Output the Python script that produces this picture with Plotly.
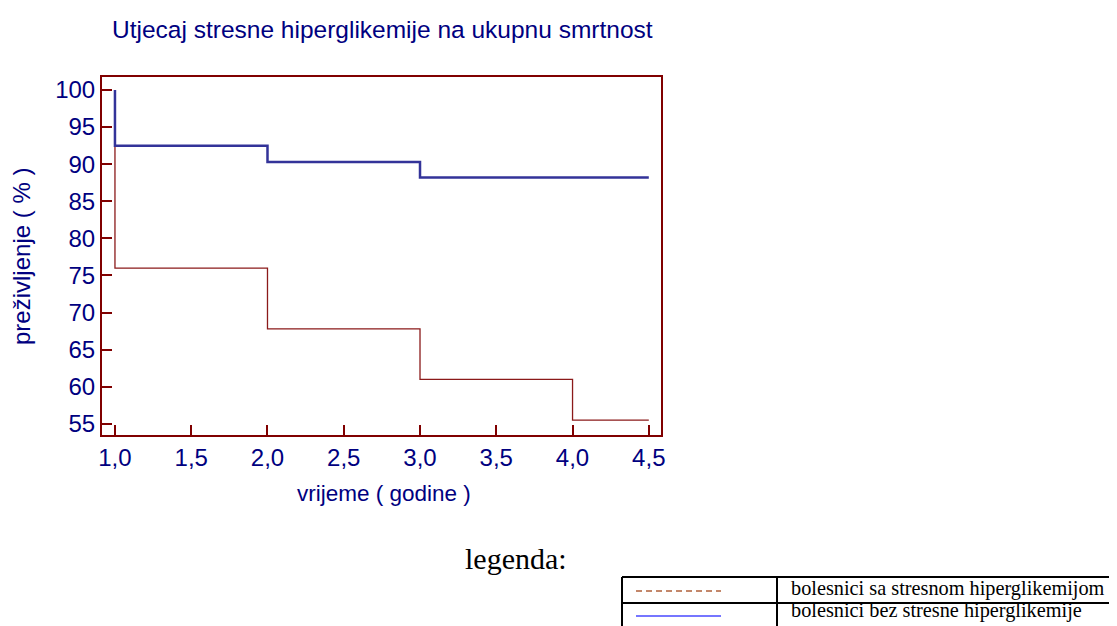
import plotly.graph_objects as go

# ---- data ----
time_red = [1.0, 1.0, 2.0, 3.0, 4.0, 4.5]
surv_red = [100, 76.0, 67.8, 61.0, 55.5, 55.5]
time_blue = [1.0, 1.0, 2.0, 3.0, 4.5]
surv_blue = [100, 92.5, 90.3, 88.2, 88.2]
x_ticks = [1.0, 1.5, 2.0, 2.5, 3.0, 3.5, 4.0, 4.5]
y_ticks = [55, 60, 65, 70, 75, 80, 85, 90, 95, 100]
title_text = "Utjecaj stresne hiperglikemije na ukupnu smrtnost"
x_title = "vrijeme ( godine )"
y_title = "preživljenje ( % )"
legend_title = "legenda:"
legend_labels = ["bolesnici sa stresnom hiperglikemijom", "bolesnici bez stresne hiperglikemije"]

OFF = 8  # page body margin
W, H = 1117 - OFF, 626 - OFF
L, R, T, B = 102 - OFF, 661 - OFF, 77 - OFF, 435 - OFF
NAVY = "#000080"
MAROON = "#800000"


def px(xp):  # screen px -> paper x
    return (xp - OFF - L) / (R - L)


def py(yp):  # screen px -> paper y
    return (B - (yp - OFF)) / (B - T)


fig = go.Figure()
fig.add_trace(go.Scatter(x=time_red, y=surv_red, mode="lines", line_shape="hv",
                         line=dict(color="#8b1a1a", width=1.3), showlegend=False))
fig.add_trace(go.Scatter(x=time_blue, y=surv_blue, mode="lines", line_shape="hv",
                         line=dict(color="#333399", width=2.5), showlegend=False))

axis_font = dict(family="Liberation Sans, Arial", size=24, color=NAVY)
fig.update_xaxes(range=[0.915, 4.58], tickvals=x_ticks, tickformat=".1f",
                 ticks="inside", ticklen=10, tickwidth=2, tickcolor=MAROON,
                 showline=True, linecolor=MAROON, linewidth=2, mirror=True,
                 showgrid=False, zeroline=False, tickfont=axis_font)
fig.update_yaxes(range=[53.5, 101.75], tickvals=y_ticks,
                 ticks="inside", ticklen=10, tickwidth=2, tickcolor=MAROON,
                 showline=True, linecolor=MAROON, linewidth=2, mirror=True,
                 showgrid=False, zeroline=False, tickfont=axis_font)

ann = []
ann.append(dict(text=title_text, x=px(382), y=py(30), xref="paper", yref="paper",
                showarrow=False, xanchor="center", yanchor="middle",
                font=dict(family="Liberation Sans, Arial", size=24.5, color=NAVY)))
ann.append(dict(text=x_title, x=px(384), y=py(493), xref="paper", yref="paper",
                showarrow=False, xanchor="center", yanchor="middle",
                font=dict(family="Liberation Sans, Arial", size=22.5, color=NAVY)))
ann.append(dict(text=y_title, x=px(21), y=py(257), xref="paper", yref="paper",
                showarrow=False, xanchor="center", yanchor="middle", textangle=-90,
                font=dict(family="Liberation Sans, Arial", size=24, color=NAVY)))
ann.append(dict(text=legend_title, x=px(516), y=py(558), xref="paper", yref="paper",
                showarrow=False, xanchor="center", yanchor="middle",
                font=dict(family="Liberation Serif, Times New Roman", size=30, color="black")))
for lbl, yy in zip(legend_labels, [588, 610]):
    ann.append(dict(text=lbl, x=px(789), y=py(yy), xref="paper", yref="paper",
                    showarrow=False, xanchor="left", yanchor="middle",
                    font=dict(family="Liberation Serif, Times New Roman", size=20.3, color="black")))

shapes = []
blk = dict(color="black", width=2)
shapes.append(dict(type="line", xref="paper", yref="paper", x0=px(622), x1=px(1130), y0=py(577), y1=py(577), line=blk))
shapes.append(dict(type="line", xref="paper", yref="paper", x0=px(622), x1=px(1130), y0=py(603), y1=py(603), line=blk))
shapes.append(dict(type="line", xref="paper", yref="paper", x0=px(622), x1=px(622), y0=py(577), y1=py(640), line=blk))
shapes.append(dict(type="line", xref="paper", yref="paper", x0=px(777), x1=px(777), y0=py(577), y1=py(640), line=blk))
shapes.append(dict(type="line", xref="paper", yref="paper", x0=px(636), x1=px(721), y0=py(591), y1=py(591),
                   line=dict(color="#b0603a", width=1.3, dash="6px,4px")))
shapes.append(dict(type="line", xref="paper", yref="paper", x0=px(636), x1=px(721), y0=py(616), y1=py(616),
                   line=dict(color="#4848ff", width=1.3)))

fig.update_layout(width=W, height=H, margin=dict(l=L, r=W - R, t=T, b=H - B, pad=0),
                  paper_bgcolor="white", plot_bgcolor="white", separators=",.",
                  annotations=ann, shapes=shapes, showlegend=False)

fig.write_html("out.html")
